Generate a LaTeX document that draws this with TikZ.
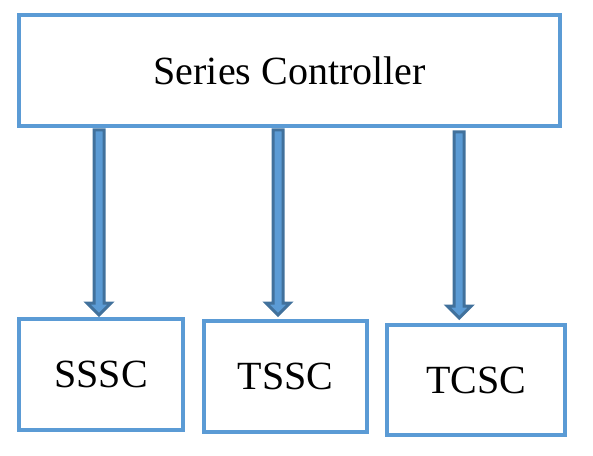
\documentclass[tikz,border=0pt]{standalone}
\usepackage{fontspec}
\setmainfont{Liberation Serif}
\usetikzlibrary{calc,positioning}
\definecolor{boxblue}{RGB}{91,155,213}
\definecolor{arrowedge}{RGB}{65,113,156}

% block arrow from #1 (top of shaft) down to #2 (tip)
\newcommand{\feedarrow}[2]{%
  \draw[feedarrow] let \p1=(#1), \p2=(#2) in
    (\x1-5pt,\y1) -- (\x1+5pt,\y1) -- (\x1+5pt,\y2+12pt) -- (\x1+12pt,\y2+12pt)
    -- (\x1,\y2) -- (\x1-12pt,\y2+12pt) -- (\x1-5pt,\y2+12pt) -- cycle;}

\begin{document}
\begin{tikzpicture}[
        x=1pt, y=1pt,
        ctlbox/.style={draw=boxblue, line width=4pt, fill=white, align=center, font=\fontsize{40pt}{48pt}\selectfont},
        feedarrow/.style={draw=arrowedge, fill=boxblue, line width=3pt}
    ]
        \useasboundingbox (0,0) rectangle (593,455);

        % Main controller
        \node[ctlbox, minimum width=540.7pt, minimum height=111.3pt] (ctl) at (289.65,384.65) {Series Controller};

        % Controller types
        \node[ctlbox, minimum width=164pt, minimum height=111pt] (sssc) at (101,80.5) {SSSC};
        \node[ctlbox, minimum width=163pt, minimum height=111.3pt] (tssc) at (285.5,78.35) {TSSC};
        \node[ctlbox, minimum width=178.3pt, minimum height=110.6pt] (tcsc) at (476.15,75) {TCSC};

        % Arrows
        \foreach \tgt/\dx/\dy/\gap in {sssc/-2/-2/2, tssc/-7.5/-2/4, tcsc/-17/-4/4.7}
            \feedarrow{$(ctl.south -| \tgt.north)+(\dx,\dy)$}{$(\tgt.north)+(\dx,\gap)$};
    \end{tikzpicture}
\end{document}
